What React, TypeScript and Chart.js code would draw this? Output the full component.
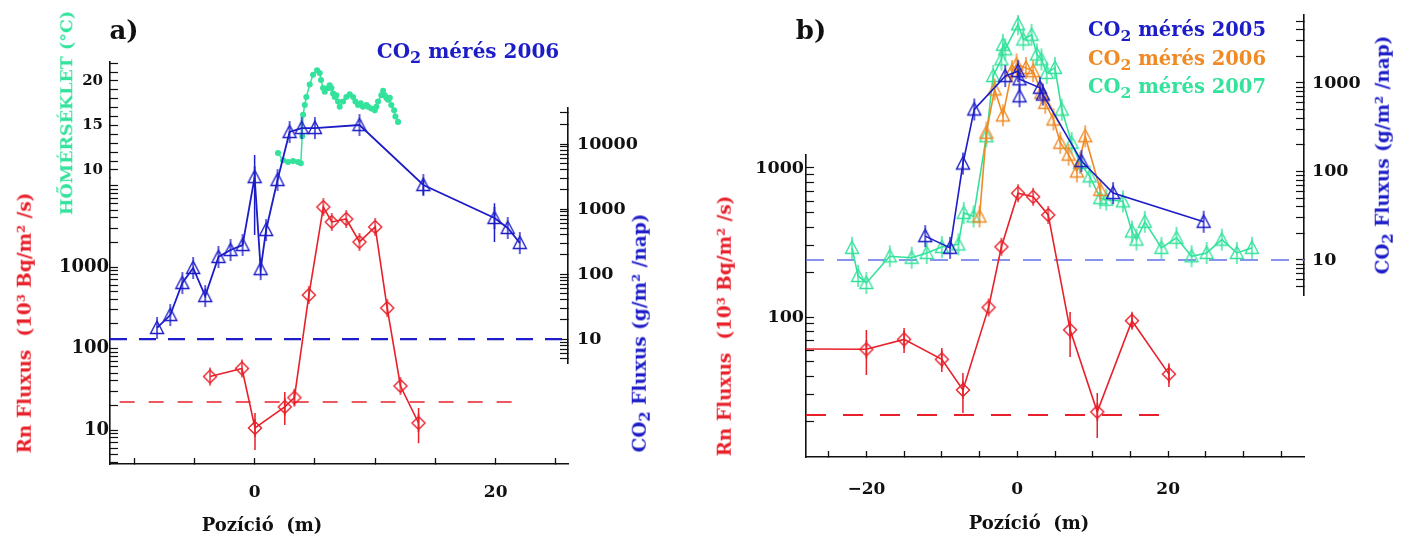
import React, { useEffect, useRef } from 'react';
import { Chart, registerables } from 'chart.js';

Chart.register(...registerables);

const FONT = "'DejaVu Serif', serif";
const INK = '#111111';
const BLUE = '#1c1cc8';
const RED = '#e8202a';
const GREEN = '#34e29c';
const ORANGE = '#f08a24';
const LIGHTBLUE = '#6272e6';

// ---------------- Panel a ----------------
const aCo2X = [-8.1, -7.0, -6.0, -5.1, -4.1, -3.0, -2.0, -1.0, 0, 0.5, 0.95, 1.9, 2.9, 3.9, 5.0, 8.7, 14.0, 19.9, 21.0, 22.0];
const aCo2 = [14.8, 23.4, 72.7, 124, 45.9, 183, 234, 279, 3100, 119, 475, 2790, 15300, 17600, 17600, 19600, 2340, 728, 511, 300];
const aCo2ErrLo = [null, null, null, null, null, null, null, null, 400, null, null, null, null, null, null, null, 1640, 310, null, null];
const aCo2ErrHi = [null, null, null, null, null, null, null, null, 6760, null, null, null, null, null, null, null, 3000, 1230, null, null];

const aTempX = [1.94, 2.36, 2.77, 3.19, 3.60, 3.83, 3.95, 4.02, 4.16, 4.29, 4.57, 4.85, 5.18, 5.40, 5.51, 5.68, 5.82, 6.09, 6.23, 6.37, 6.51, 6.65, 6.78, 6.92, 7.06, 7.34, 7.61, 7.89, 8.17, 8.36, 8.58, 8.80, 8.99, 9.27, 9.41, 9.68, 9.97, 10.10, 10.24, 10.51, 10.66, 10.80, 10.93, 11.07, 11.21, 11.34, 11.57, 11.68, 11.90];
const aTemp = [11.9, 11.1, 10.9, 11.0, 10.9, 10.75, 13.8, 16.2, 17.3, 18.2, 19.6, 20.7, 21.2, 20.9, 20.1, 19.2, 18.8, 19.2, 19.5, 19.2, 18.6, 18.2, 18.4, 17.7, 17.1, 17.7, 18.2, 18.5, 18.2, 17.7, 17.3, 17.5, 17.1, 17.3, 17.1, 16.9, 16.7, 17.1, 17.7, 18.4, 18.9, 18.4, 18.1, 17.9, 18.1, 17.3, 16.7, 16.0, 15.4];

const aRnX = [-3.7, -1.05, 0.03, 2.5, 3.3, 4.5, 5.7, 6.4, 7.6, 8.7, 10.0, 11.0, 12.1, 13.6];
const aRn = [45.3, 56.9, 10.6, 19.2, 25, 453, 5440, 3570, 3880, 2030, 3100, 314, 34.7, 12.2];
const aRnErrLo = [null, null, 5.7, 11.5, 20, null, null, null, null, null, null, null, null, 6.9];
const aRnErrHi = [null, null, 16.2, 29.3, 31, null, null, null, null, null, null, null, null, 18.6];

const co2Base = 10;
const rnBase = 22;
const aCo2BaseX = [-12, 26];
const aRnBaseX = [-11.2, 21.5];

const aXRange = [-12, 26];
const aXTicks = [-10, -5, 0, 5, 10, 15, 20, 25];
const aXLabelVals = [0, 20];
const aXLabelTexts = ['0', '20'];
const aTempRange = [9.1, 22.13];
const aTempTicks = [10, 11, 12, 13, 14, 15, 16, 17, 18, 19, 20, 21, 22];
const aTempLabelVals = [10, 15, 20];
const aRnRange = [3.83, 12360];
const aRnLabelVals = [10, 100, 1000];
const aCo2Range = [4.28, 35800];
const aCo2LabelVals = [10, 100, 1000, 10000];

// ---------------- Panel b ----------------
const bRnX = [-30, -20, -15, -10, -7.2, -3.8, -2.1, 0.1, 2.1, 4.1, 7.0, 10.6, 15.2, 20.1];
const bRn = [61, 60.7, 70.8, 52, 32.4, 116, 296, 677, 641, 484, 82, 23.1, 94.4, 41.4];
const bRnErrLo = [null, 40.8, 57.3, 42.8, 22.7, null, null, null, null, null, 54, 15.4, 84, 33.9];
const bRnErrHi = [null, 81.8, 84.4, 62, 42.1, null, null, null, null, null, 108, 30.9, 106, 49];

const b05X = [-12.2, -8.9, -7.2, -5.7, -1.6, 0.1, 0.3, 3.0, 3.4, 8.5, 12.7, 24.7];
const b05 = [18.6, 13.7, 123, 502, 1195, 1360, 1100, 883, 740, 131, 57, 27];
const b05ExtraX = [0.3];
const b05Extra = [707];

const b06X = [-5.0, -4.1, -3.0, -1.9, -0.7, -0.1, 1.15, 2.1, 3.2, 3.7, 4.8, 5.7, 6.8, 7.9, 9.0, 11.0];
const b06 = [31, 274, 845, 430, 1360, 1620, 1480, 1360, 774, 597, 387, 211, 155, 100, 250, 62];

const b07X = [-21.9, -21.1, -20.0, -16.9, -14.0, -12.0, -10.0, -7.8, -7.1, -5.8, -4.1, -3.2, -2.1, -1.9, -1.6, 0.1, 0.8, 1.9, 2.6, 3.2, 3.9, 5.0, 5.9, 7.2, 8.3, 9.6, 11.0, 11.8, 14.0, 15.2, 15.8, 16.9, 19.1, 21.1, 23.1, 25.1, 27.1, 29.1, 31.1];
const b07 = [13.7, 6.6, 5.5, 11, 10.6, 12, 14, 15, 34, 31, 250, 1200, 1850, 2700, 2400, 4600, 3100, 3500, 2100, 1850, 1300, 1480, 500, 211, 125, 88, 50, 48, 46, 21, 17, 27, 13.7, 17.8, 11, 12, 17, 12, 13.7];

const bCo2BaseX = [-28, 38];
const bRnBaseX = [-28, 21];

const bXRange = [-28, 38];
const bXTicks = [-25, -20, -15, -10, -5, 0, 5, 10, 15, 20, 25, 30, 35];
const bXLabelVals = [-20, 0, 20];
const bXLabelTexts = ['\u221220', '0', '20'];
const bRnRange = [11.5, 1222];
const bRnLabelVals = [100, 1000];
const bCo2Range = [4.02, 5860];
const bCo2LabelVals = [10, 100, 1000];

// ---------------- helpers ----------------
function logTicks(min: number, max: number) {
  const out: number[] = [];
  for (let e = -1; e <= 6; e++) {
    for (let m = 1; m <= 9; m++) {
      const v = m * Math.pow(10, e);
      if (v >= min && v <= max) out.push(v);
    }
  }
  return out;
}

const pts = (xs: number[], ys: number[]) => xs.map((x, i) => ({ x, y: ys[i] }));

function makeTri(color: string) {
  const c = document.createElement('canvas');
  c.width = 18; c.height = 28;
  const g = c.getContext('2d')!;
  g.strokeStyle = color; g.lineWidth = 1.4;
  g.beginPath(); g.moveTo(9, 7); g.lineTo(15.5, 19.5); g.lineTo(2.5, 19.5); g.closePath(); g.stroke();
  g.beginPath(); g.moveTo(9, 3); g.lineTo(9, 25); g.stroke();
  return c;
}
function makeDiamond(color: string) {
  const c = document.createElement('canvas');
  c.width = 18; c.height = 26;
  const g = c.getContext('2d')!;
  g.strokeStyle = color; g.lineWidth = 1.4;
  g.beginPath(); g.moveTo(9, 6.5); g.lineTo(15.5, 13); g.lineTo(9, 19.5); g.lineTo(2.5, 13); g.closePath(); g.stroke();
  g.beginPath(); g.moveTo(9, 4); g.lineTo(9, 22); g.stroke();
  return c;
}

const errorBarPlugin = {
  id: 'errbars',
  afterDatasetsDraw(chart: any) {
    const ctx = chart.ctx;
    const area = chart.chartArea;
    chart.data.datasets.forEach((ds: any) => {
      if (!ds.errLo) return;
      const xs = chart.scales[ds.xAxisID || 'x'];
      const ys = chart.scales[ds.yAxisID];
      ctx.save();
      ctx.beginPath();
      ctx.rect(area.left, area.top, area.right - area.left, area.bottom - area.top);
      ctx.clip();
      ctx.strokeStyle = ds.borderColor;
      ctx.lineWidth = 1.5;
      ctx.beginPath();
      ds.data.forEach((p: any, i: number) => {
        const lo = ds.errLo[i];
        const hi = ds.errHi[i];
        if (lo == null || hi == null) return;
        const px = xs.getPixelForValue(p.x);
        ctx.moveTo(px, ys.getPixelForValue(lo));
        ctx.lineTo(px, ys.getPixelForValue(hi));
      });
      ctx.stroke();
      ctx.restore();
    });
  },
};

function xScale(range: number[], ticks: number[], labelVals: number[], labelTexts: string[], height: number, pad: number) {
  return {
    type: 'linear', position: 'bottom', min: range[0], max: range[1],
    afterBuildTicks: (s: any) => { s.ticks = ticks.map((v) => ({ value: v })); },
    afterFit: (s: any) => { s.height = height; s.paddingLeft = 0; s.paddingRight = 0; s.paddingTop = 0; s.paddingBottom = 0; },
    ticks: {
      autoSkip: false, source: 'data', maxRotation: 0, minRotation: 0, padding: pad, color: INK,
      font: { family: FONT, size: 17, weight: 'bold' },
      callback: (v: any) => { const i = labelVals.indexOf(Number(v)); return i >= 0 ? labelTexts[i] : ''; },
    },
    grid: { drawOnChartArea: false, drawTicks: true, tickLength: -6, color: INK, tickWidth: 1.3 },
    border: { display: true, color: INK, width: 1.6 },
  };
}

function yScale(o: any) {
  return {
    type: o.type, position: o.position, stack: o.stack, stackWeight: o.sw, weight: o.w,
    min: o.range[0], max: o.range[1],
    afterBuildTicks: (s: any) => { s.ticks = o.ticks.map((v: number) => ({ value: v })); },
    afterFit: (s: any) => { s.width = o.width; s.paddingTop = 0; s.paddingBottom = 0; s.paddingLeft = 0; s.paddingRight = 0; },
    ticks: {
      autoSkip: false, source: 'data', padding: o.pad, color: INK,
      font: { family: FONT, size: o.fs, weight: 'bold' },
      callback: (v: any) => (o.labels.includes(Number(v)) ? String(Number(v)) : ''),
    },
    grid: { drawOnChartArea: false, drawTicks: true, tickLength: -8, color: INK, tickWidth: 1.2 },
    border: { display: true, color: INK, width: 1.6 },
  };
}

function spacer(position: string, stack: string, sw: number, w: number, width: number) {
  return {
    type: 'linear', position, stack, stackWeight: sw, weight: w, display: true,
    afterFit: (s: any) => { s.width = width; s.paddingTop = 0; s.paddingBottom = 0; },
    ticks: { display: false }, grid: { display: false }, border: { display: false },
  };
}

function series(label: string, data: any[], yAxisID: string, color: string, marker: any, extra: any = {}) {
  return {
    label, data, yAxisID, borderColor: color, backgroundColor: color, borderWidth: 1.6,
    pointStyle: marker, pointRadius: 6, tension: 0, ...extra,
  };
}

function dashed(label: string, xs: number[], value: number, yAxisID: string, color: string, dash: number[], width: number) {
  return {
    label, data: xs.map((x) => ({ x, y: value })), yAxisID, borderColor: color, borderWidth: width,
    borderDash: dash, pointRadius: 0, tension: 0,
  };
}

const baseOptions = (padTop: number, scales: any) => ({
  responsive: false, animation: false, devicePixelRatio: 1, events: [],
  layout: { padding: { top: padTop, left: 0, right: 0, bottom: 0 } },
  plugins: { legend: { display: false }, tooltip: { enabled: false }, title: { display: false } },
  scales,
});

function configA() {
  const triB = makeTri(BLUE);
  const diaR = makeDiamond(RED);
  return {
    type: 'line',
    data: {
      datasets: [
        series('Rn fluxus', pts(aRnX, aRn), 'yRn', RED, diaR, { errLo: aRnErrLo, errHi: aRnErrHi }),
        series('CO2 mérés 2006', pts(aCo2X, aCo2), 'yC', BLUE, triB, { borderWidth: 1.8, errLo: aCo2ErrLo, errHi: aCo2ErrHi }),
        series('Hőmérséklet', pts(aTempX, aTemp), 'yT', GREEN, 'circle', { pointRadius: 2.3, borderWidth: 1.5 }),
        dashed('Rn háttér', aRnBaseX, rnBase, 'yRn', RED, [15, 14], 1.5),
        dashed('CO2 háttér', aCo2BaseX, co2Base, 'yC', BLUE, [17, 12], 2.2),
      ],
    },
    options: baseOptions(62, {
      x: xScale(aXRange, aXTicks, aXLabelVals, aXLabelTexts, 78, 24),
      yT: yScale({ type: 'linear', position: 'left', stack: 'L', sw: 116, w: 2, range: aTempRange, ticks: aTempTicks, labels: aTempLabelVals, width: 110, pad: 15, fs: 15 }),
      yRn: yScale({ type: 'logarithmic', position: 'left', stack: 'L', sw: 286, w: 1, range: aRnRange, ticks: logTicks(aRnRange[0], aRnRange[1]), labels: aRnLabelVals, width: 110, pad: 9, fs: 18 }),
      sTop: spacer('right', 'R', 46, 1, 132),
      yC: yScale({ type: 'logarithmic', position: 'right', stack: 'R', sw: 255, w: 2, range: aCo2Range, ticks: logTicks(aCo2Range[0], aCo2Range[1]), labels: aCo2LabelVals, width: 132, pad: 17, fs: 17.5 }),
      sBot: spacer('right', 'R', 101, 3, 132),
    }),
    plugins: [errorBarPlugin],
  };
}

function configB() {
  return {
    type: 'line',
    data: {
      datasets: [
        series('CO2 mérés 2005', pts(b05X, b05), 'yC', BLUE, makeTri(BLUE)),
        series('CO2 mérés 2005 (külön)', pts(b05ExtraX, b05Extra), 'yC', BLUE, makeTri(BLUE), { showLine: false }),
        series('CO2 mérés 2006', pts(b06X, b06), 'yC', ORANGE, makeTri(ORANGE)),
        series('CO2 mérés 2007', pts(b07X, b07), 'yC', GREEN, makeTri(GREEN)),
        series('Rn fluxus', pts(bRnX, bRn), 'yRn', RED, makeDiamond(RED), { errLo: bRnErrLo, errHi: bRnErrHi }),
        dashed('Rn háttér', bRnBaseX, rnBase, 'yRn', RED, [20, 17], 2),
        dashed('CO2 háttér', bCo2BaseX, co2Base, 'yC', LIGHTBLUE, [18, 13], 1.6),
      ],
    },
    options: baseOptions(15, {
      x: xScale(bXRange, bXTicks, bXLabelVals, bXLabelTexts, 85, 28),
      sTopL: spacer('left', 'L', 140, 2, 106),
      yRn: yScale({ type: 'logarithmic', position: 'left', stack: 'L', sw: 302, w: 1, range: bRnRange, ticks: logTicks(bRnRange[0], bRnRange[1]), labels: bRnLabelVals, width: 106, pad: 10, fs: 17.5 }),
      yC: yScale({ type: 'logarithmic', position: 'right', stack: 'R', sw: 280, w: 1, range: bCo2Range, ticks: logTicks(bCo2Range[0], bCo2Range[1]), labels: bCo2LabelVals, width: 109, pad: 16, fs: 17.5 }),
      sBotR: spacer('right', 'R', 162, 2, 109),
    }),
    plugins: [errorBarPlugin],
  };
}

// ---------------- text helpers ----------------
const Sup = ({ children }: any) => (
  <span style={{ fontSize: '0.62em', position: 'relative', top: '-0.55em' }}>{children}</span>
);
const Sub = ({ children }: any) => (
  <span style={{ fontSize: '0.8em', position: 'relative', top: '0.3em' }}>{children}</span>
);
const T = ({ x, y, rot, size, color, children }: any) => (
  <div
    style={{
      position: 'absolute', left: x, top: y, whiteSpace: 'nowrap', lineHeight: 1,
      transform: `translate(-50%, -50%)${rot ? ' rotate(-90deg)' : ''}`,
      fontFamily: FONT, fontWeight: 'bold', fontSize: size, color: color || INK,
    }}
  >
    {children}
  </div>
);

export default function App() {
  const refA = useRef<HTMLCanvasElement>(null);
  const refB = useRef<HTMLCanvasElement>(null);
  useEffect(() => {
    const ca = new Chart(refA.current as any, configA() as any);
    const cb = new Chart(refB.current as any, configB() as any);
    return () => { ca.destroy(); cb.destroy(); };
  }, []);
  return (
    <div style={{ position: 'absolute', left: 0, top: 0, width: 1413, height: 542, background: '#fff', overflow: 'hidden' }}>
      <canvas ref={refA} width={700} height={542} style={{ position: 'absolute', left: 0, top: 0 }} />
      <canvas ref={refB} width={713} height={542} style={{ position: 'absolute', left: 700, top: 0 }} />

      <T x={124} y={30} size={26}>a)</T>
      <T x={811} y={30} size={26}>b)</T>

      <T x={468} y={51} size={20} color={BLUE}>CO<Sub>2</Sub> mérés 2006</T>

      <T x={1177} y={30} size={19.5} color={BLUE}>CO<Sub>2</Sub> mérés 2005</T>
      <T x={1177} y={59} size={19.5} color={ORANGE}>CO<Sub>2</Sub> mérés 2006</T>
      <T x={1177} y={87} size={19.5} color={GREEN}>CO<Sub>2</Sub> mérés 2007</T>

      <T x={25} y={323} rot size={18.5} color={RED}>Rn Fluxus&nbsp;&nbsp;(10<Sup>3</Sup> Bq/m<Sup>2</Sup> /s)</T>
      <T x={67} y={113} rot size={17.5} color={GREEN}>HŐMÉRSÉKLET (°C)</T>
      <T x={640} y={333} rot size={18.5} color={BLUE}>CO<Sub>2</Sub> Fluxus (g/m<Sup>2</Sup> /nap)</T>

      <T x={725} y={326} rot size={18.5} color={RED}>Rn Fluxus&nbsp;&nbsp;(10<Sup>3</Sup> Bq/m<Sup>2</Sup> /s)</T>
      <T x={1383} y={155} rot size={18.5} color={BLUE}>CO<Sub>2</Sub> Fluxus (g/m<Sup>2</Sup> /nap)</T>

      <T x={262} y={525} size={18}>Pozíció&nbsp;&nbsp;(m)</T>
      <T x={1029} y={523} size={18}>Pozíció&nbsp;&nbsp;(m)</T>
    </div>
  );
}
